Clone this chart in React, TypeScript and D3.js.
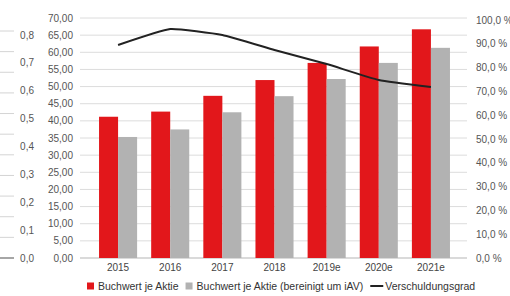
import React, { useEffect, useRef } from "react";
import * as d3 from "d3";

const years = ["2015", "2016", "2017", "2018", "2019e", "2020e", "2021e"];
const buchwert = [41.2, 42.7, 47.3, 51.9, 56.9, 61.7, 66.7];
const buchwertBereinigt = [35.3, 37.5, 42.5, 47.2, 52.2, 56.9, 61.3];
const verschuldung = [89.5, 96.2, 93.7, 87.4, 81.5, 74.8, 71.8];
const leftTicks = d3.range(0, 75, 5);
const rightTicks = d3.range(0, 110, 10);
// labels of the neighbouring chart that is cut off at the left edge
const sideTicks = [0, 0.1, 0.2, 0.3, 0.4, 0.5, 0.6, 0.7, 0.8];
const sideGrid = d3.range(0, 12);
const legendItems = [
  { label: "Buchwert je Aktie", type: "rect", color: "#e2171b" },
  { label: "Buchwert je Aktie (bereinigt um iAV)", type: "rect", color: "#b2b2b2" },
  { label: "Verschuldungsgrad", type: "line", color: "#222" },
];

const font = "'Liberation Sans', Arial, sans-serif";

export default function App() {
  const ref = useRef<SVGSVGElement>(null);

  useEffect(() => {
    const svg = d3.select(ref.current);
    svg.selectAll("*").remove();

    const comma = (f: string) => (v: number) => d3.format(f)(v).replace(".", ",");

    // side chart fragment
    const ySide = d3.scaleLinear().domain([0, 0.8]).range([258, 35]);
    const ySideGrid = d3.scaleLinear().domain([0, 11]).range([258, 31]);
    svg.append("g").selectAll("line").data(sideGrid).join("line")
      .attr("x1", 0).attr("x2", 14)
      .attr("y1", d => ySideGrid(d)).attr("y2", d => ySideGrid(d))
      .attr("stroke", d => (d === 0 ? "#888" : "#d4d4d4"))
      .attr("stroke-width", d => (d === 0 ? 1.5 : 1));
    svg.append("g").selectAll("text").data(sideTicks).join("text")
      .attr("x", 34).attr("y", d => ySide(d)).attr("dy", "0.35em")
      .attr("text-anchor", "end")
      .attr("font-size", 10).attr("fill", "#555").attr("font-family", font)
      .text(comma(".1f"));

    // main chart
    const y = d3.scaleLinear().domain([0, 70]).range([258, 18]);
    const yR = d3.scaleLinear().domain([0, 100]).range([258, 20]);
    const x0 = d3.scaleBand().domain(years).range([92, 457])
      .paddingInner(0.27).paddingOuter(0.135);
    const x1 = d3.scaleBand().domain(["a", "b"]).range([0, x0.bandwidth()]);

    svg.append("g").selectAll("line").data(leftTicks).join("line")
      .attr("x1", 80).attr("x2", 467)
      .attr("y1", d => y(d)).attr("y2", d => y(d))
      .attr("stroke", d => (d === 0 ? "#b5b5b5" : "#dcdcdc"));

    svg.append("g").selectAll("text").data(leftTicks).join("text")
      .attr("x", 73).attr("y", d => y(d)).attr("dy", "0.35em")
      .attr("text-anchor", "end")
      .attr("font-size", 10).attr("fill", "#555").attr("font-family", font)
      .text(comma(".2f"));

    svg.append("g").selectAll("text").data(rightTicks).join("text")
      .attr("x", 476).attr("y", d => yR(d)).attr("dy", "0.35em")
      .attr("font-size", 10).attr("fill", "#555").attr("font-family", font)
      .text(d => comma(".1f")(d) + " %");

    const groups = svg.append("g").selectAll("g").data(years).join("g")
      .attr("transform", d => `translate(${x0(d)},0)`);
    groups.append("rect")
      .attr("x", x1("a")!).attr("width", x1.bandwidth())
      .attr("y", (_, i) => y(buchwert[i]))
      .attr("height", (_, i) => y(0) - y(buchwert[i]))
      .attr("fill", "#e2171b");
    groups.append("rect")
      .attr("x", x1("b")!).attr("width", x1.bandwidth())
      .attr("y", (_, i) => y(buchwertBereinigt[i]))
      .attr("height", (_, i) => y(0) - y(buchwertBereinigt[i]))
      .attr("fill", "#b2b2b2");

    svg.append("g").selectAll("text").data(years).join("text")
      .attr("x", d => x0(d)! + x0.bandwidth() / 2).attr("y", 271)
      .attr("text-anchor", "middle")
      .attr("font-size", 10).attr("fill", "#444").attr("font-family", font)
      .text(d => d);

    const line = d3.line<number>()
      .x((_, i) => x0(years[i])! + x0.bandwidth() / 2)
      .y(d => yR(d))
      .curve(d3.curveCardinal.tension(0.6));
    svg.append("path").datum(verschuldung)
      .attr("d", line).attr("fill", "none")
      .attr("stroke", "#222").attr("stroke-width", 2);

    // legend
    const legend = svg.append("g").attr("transform", "translate(87,286)");
    let cx = 0;
    legendItems.forEach(item => {
      if (item.type === "rect") {
        legend.append("rect").attr("x", cx).attr("y", -3.5)
          .attr("width", 7).attr("height", 7).attr("fill", item.color);
        cx += 11;
      } else {
        legend.append("line").attr("x1", cx).attr("x2", cx + 13)
          .attr("y1", 0).attr("y2", 0)
          .attr("stroke", item.color).attr("stroke-width", 2);
        cx += 15;
      }
      const t = legend.append("text").attr("x", cx).attr("y", 0).attr("dy", "0.35em")
        .attr("font-size", 10.5).attr("fill", "#333").attr("font-family", font)
        .text(item.label);
      cx += (t.node() as SVGTextElement).getComputedTextLength() + 7;
    });
  }, []);

  return (
    <svg ref={ref} width={510} height={296}
      style={{ position: "absolute", left: 0, top: 0, background: "#fff" }} />
  );
}
